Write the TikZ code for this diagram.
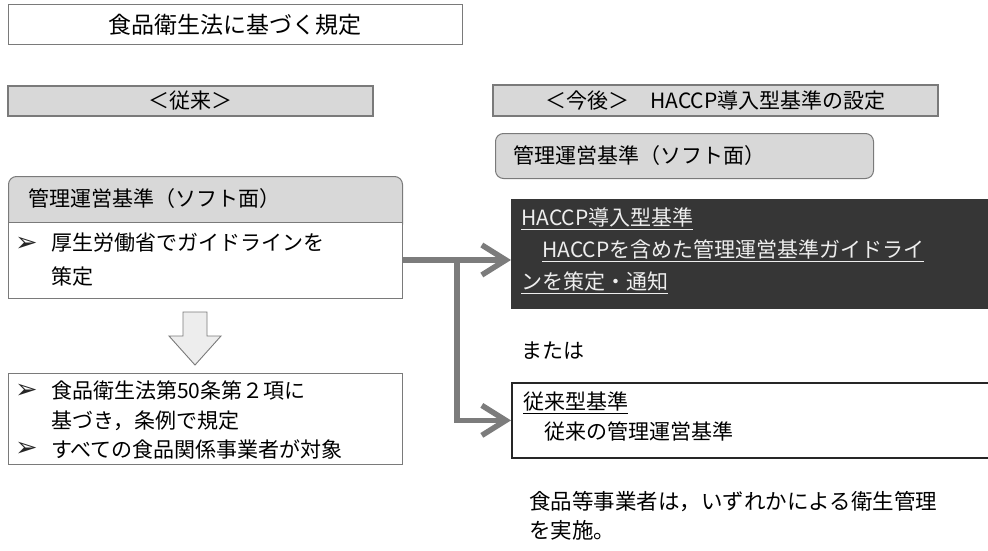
\documentclass[tikz,border=0pt]{standalone}
\usepackage{fontspec}
\setmainfont{Noto Sans CJK JP}
\newfontfamily\sym{DejaVu Sans}
\usetikzlibrary{arrows.meta}
\definecolor{barfill}{HTML}{D8D8D8}
\definecolor{edgegray}{HTML}{7A7A7A}
\definecolor{darkfill}{HTML}{363636}
\definecolor{conn}{HTML}{7C7C7C}
\definecolor{lighttext}{HTML}{EEEEEE}
\tikzset{
  plainbox/.style={draw=edgegray, line width=1pt, fill=white, inner sep=0pt},
  barbox/.style={draw=edgegray, line width=1.6pt, fill=barfill, inner sep=0pt},
  hdrbox/.style={draw=edgegray, line width=1pt, fill=barfill, rounded corners=8pt, inner sep=0pt},
  txt/.style={inner sep=0pt, anchor=west, align=left},
  bul/.style={inner sep=0pt, anchor=west, text=black!85, font=\sym\fontsize{27}{30}\selectfont},
  conline/.style={draw=conn, line width=5.5pt, -{Straight Barb[length=24pt,width=30pt]}},
  blockarrow/.style={draw=edgegray, line width=0.9pt, fill=white!93!black}
}
\begin{document}
\begin{tikzpicture}[x=1pt,y=-1pt, font=\fontsize{21}{30}\selectfont]
\useasboundingbox (0,0) rectangle (988,551);

% title
\node[plainbox, minimum width=454pt, minimum height=40pt, font=\fontsize{23}{28}\selectfont] (title) at (235,25) {食品衛生法に基づく規定};

% left bar
\node[barbox, minimum width=365pt, minimum height=30pt] (oldbar) at (190.5,101) {＜従来＞};

% right bar
\node[barbox, minimum width=445pt, minimum height=31pt] (newbar) at (715.5,100.5) {＜今後＞　HACCP導入型基準の設定};

% left header + body
\node[hdrbox, anchor=north west, minimum width=394pt, minimum height=56pt] (hdrL) at (8,176) {};
\node[txt] (hdrLtext) at (28,199) {管理運営基準（ソフト面）};
\node[plainbox, anchor=north west, minimum width=394pt, minimum height=76pt] (bodyL) at (8,222) {};
\node[bul] (bulA) at (15,244) {➢};
\node[txt, font=\fontsize{21}{34}\selectfont] (bodyLtext) at (51,260) {厚生労働省でガイドラインを\\策定};

% hollow block arrow
\draw[blockarrow] (183,312) -- (207,312) -- (207,336) -- (221,336) -- (195,365) -- (169,336) -- (183,336) -- cycle;

% left lower box
\node[plainbox, anchor=north west, minimum width=394pt, minimum height=91pt] (lowL) at (8,373) {};
\node[bul] (bulB) at (15,391) {➢};
\node[txt] (lowLtextA) at (51,405.5) {食品衛生法第50条第２項に\\基づき，条例で規定};
\node[bul] (bulC) at (15,449) {➢};
\node[txt] (lowLtextB) at (51,449) {すべての食品関係事業者が対象};

% right header
\node[hdrbox, anchor=north west, minimum width=378pt, minimum height=45pt] (hdrR) at (495,133) {};
\node[txt] (hdrRtext) at (513,155.5) {管理運営基準（ソフト面）};

% dark box
\node[draw=darkfill, fill=darkfill, inner sep=0pt, anchor=north west, minimum width=490pt, minimum height=109pt] (haccp) at (511,199) {};
\node[txt, text=lighttext, font=\fontsize{21}{32}\selectfont] (haccptext) at (521,251) {\underline{HACCP導入型基準}\\　\underline{HACCPを含めた管理運営基準ガイドライ}\\\underline{ンを策定・通知}};

% または
\node[txt] (or) at (521,351) {または};

% traditional box
\node[draw=black!85, line width=1.8pt, fill=white, inner sep=0pt, anchor=north west, minimum width=490pt, minimum height=75pt] (trad) at (511,382) {};
\node[txt] (tradtext) at (523,417) {\underline{従来型基準}\\　従来の管理運営基準};

% note
\node[txt, font=\fontsize{21.5}{29}\selectfont] (note) at (529,515.5) {食品等事業者は，いずれかによる衛生管理\\を実施。};

% connectors
\coordinate (branch) at (457,260);
\draw[conline] (bodyL.east |- 0,260) -- (haccp.west |- 0,260);
\draw[conline] (branch) |- (trad.west);
\end{tikzpicture}
\end{document}
